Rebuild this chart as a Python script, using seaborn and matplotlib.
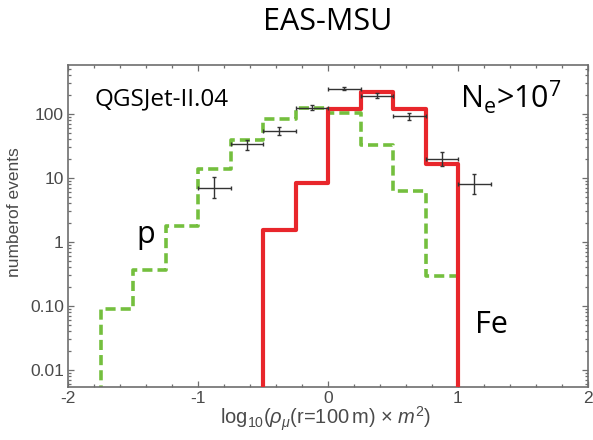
import numpy as np
import pandas as pd
import matplotlib
matplotlib.use("Agg")
import matplotlib.pyplot as plt
import seaborn as sns
from matplotlib.ticker import FixedLocator, LogLocator, NullFormatter, MultipleLocator

# Bin edges (log10 of muon density) and simulated event counts
p_edges = [-1.75, -1.5, -1.25, -1.0, -0.75, -0.5, -0.25, 0.0, 0.25, 0.5, 0.75, 1.0]
p_counts = [0.09, 0.36, 1.8, 14.0, 39.0, 83.0, 125.0, 103.0, 33.0, 6.3, 0.29]

fe_edges = [-0.5, -0.25, 0.0, 0.25, 0.5, 0.75, 1.0]
fe_counts = [1.55, 8.3, 118.0, 218.0, 118.0, 16.5]

# Measured EAS-MSU events
data_x = [-0.875, -0.625, -0.375, -0.125, 0.125, 0.375, 0.625, 0.875, 1.125]
data_y = [7.0, 33.5, 55.0, 125.0, 248.0, 193.0, 93.0, 19.6, 8.0]
data_lo = [4.8, 27.0, 47.0, 115.0, 236.0, 176.0, 80.0, 15.4, 5.6]
data_hi = [10.2, 39.0, 63.0, 138.0, 260.0, 211.0, 105.0, 25.8, 11.6]
data_halfwidth = 0.125

ytick_vals = [0.01, 0.1, 1, 10, 100]
ytick_labels = ["0.01", "0.10", "1", "10", "100"]
xtick_vals = [-2, -1, 0, 1, 2]

YMIN, YMAX = 10 ** -2.266, 10 ** 2.766


def step_frame(edges, counts, floor):
    """Outline of a histogram that rises from and returns to the floor."""
    x = [edges[0]] + list(edges[:-1]) + [edges[-1], edges[-1]]
    y = [floor] + list(counts) + [counts[-1], floor]
    return pd.DataFrame({"x": x, "y": y})


sns.set_style("ticks")
plt.rcParams["font.family"] = ["Liberation Sans", "DejaVu Sans"]
plt.rcParams["mathtext.fontset"] = "custom"
plt.rcParams["mathtext.rm"] = "Liberation Sans"
plt.rcParams["mathtext.it"] = "Liberation Sans:italic"

fig = plt.figure(figsize=(5.93, 4.40), dpi=100)
ax = fig.add_axes([68 / 593, 1 - 387 / 440, 520 / 593, 322 / 440])
ax.set_yscale("log")

floor = YMIN * 1e-3
green = "#74bf3e"
red = "#e8262b"

p_df = step_frame(p_edges, p_counts, floor)
fe_df = step_frame(fe_edges, fe_counts, floor)

sns.lineplot(data=p_df, x="x", y="y", sort=False, estimator=None, ax=ax,
             color=green, linewidth=2.6, drawstyle="steps-post",
             dashes=False, zorder=2)
ax.lines[-1].set_dashes([2.8, 1.4])
sns.lineplot(data=fe_df, x="x", y="y", sort=False, estimator=None, ax=ax,
             color=red, linewidth=3.0, drawstyle="steps-post", zorder=3)

yerr = np.array([np.subtract(data_y, data_lo), np.subtract(data_hi, data_y)])
ax.errorbar(data_x, data_y, xerr=data_halfwidth, yerr=yerr, fmt="none",
            ecolor="#333333", elinewidth=1.0, capsize=1.5, capthick=1.0,
            zorder=4)

ax.set_xlim(-2, 2)
ax.set_ylim(YMIN, YMAX)

ax.xaxis.set_major_locator(FixedLocator(xtick_vals))
ax.xaxis.set_minor_locator(MultipleLocator(0.2))
ax.set_xticklabels([str(v) for v in xtick_vals])
ax.yaxis.set_major_locator(FixedLocator(ytick_vals))
ax.set_yticklabels(ytick_labels)
ax.yaxis.set_minor_locator(LogLocator(base=10, subs=np.arange(2, 10)))
ax.yaxis.set_minor_formatter(NullFormatter())

axis_grey = "#6e6e6e"
for s in ax.spines.values():
    s.set_color(axis_grey)
    s.set_linewidth(1.2)
ax.tick_params(which="both", direction="in", top=True, right=True,
               color=axis_grey, width=0.9)
ax.tick_params(which="major", length=4.5, labelsize=12.5,
               labelcolor="#4a4a4a", pad=3)
ax.tick_params(which="minor", length=2.5)

ax.set_xlabel(r"log$_{10}$($\rho_\mu$(r=100$\,$m) × $m^2$)",
              fontsize=14.5, color="#4a4a4a")
ax.set_ylabel("numberof events", fontsize=12.5, color="#4a4a4a")
ax.xaxis.set_label_coords(0.496, -0.055)
ax.yaxis.set_label_coords(-0.088, 0.542)

big = dict(family=["Open Sans", "DejaVu Sans"], color="black")
fig.text(0.553, 1 - 22 / 440, "EAS-MSU", ha="center", va="center",
         fontsize=22, **big)
ax.text((95 - 68) / 520, (387 - 105) / 322, "QGSJet-II.04", ha="left",
        va="baseline", fontsize=17.5, transform=ax.transAxes, **big)
ax.text((460 - 68) / 520, (387 - 108) / 322,
        r"N$_\mathregular{e}$>10$^\mathregular{7}$", ha="left",
        va="baseline", fontsize=22, transform=ax.transAxes, **big)
ax.text((136 - 68) / 520, (387 - 243) / 322, "p", ha="left",
        va="baseline", fontsize=22, transform=ax.transAxes, **big)
ax.text((475 - 68) / 520, (387 - 333) / 322, "Fe", ha="left",
        va="baseline", fontsize=22, transform=ax.transAxes, **big)

fig.savefig("out.png", dpi=100)
